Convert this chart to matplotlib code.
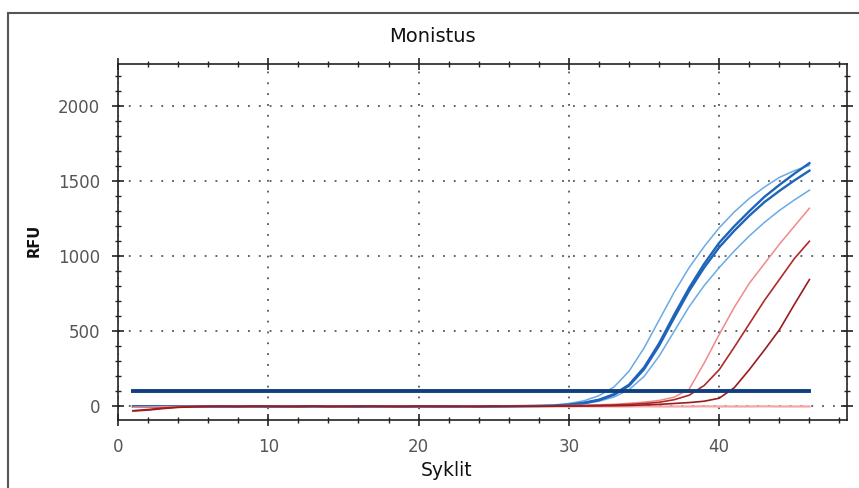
import matplotlib
matplotlib.use("Agg")
import matplotlib.pyplot as plt
from matplotlib.ticker import MultipleLocator
from matplotlib.patches import Rectangle

plt.rcParams['font.family'] = ['DejaVu Sans']

cycles = list(range(1, 47))

# RFU values per cycle (cycles 1..46)
blue_dark_a = [0, 1, 0, 2, 1, 0, 2, 1, 0, 1, 2, 0, 1, 0, 2, 1, 0, 1, 2, 1, 0, 1, 2, 1, 0, 2, 3, 4,
               5, 12, 25, 45, 82, 145, 260, 420, 610, 790, 950, 1090, 1200, 1300, 1395, 1475, 1550, 1620]
blue_dark_b = [0, 0, 1, 1, 2, 1, 0, 1, 2, 0, 1, 1, 0, 2, 1, 0, 1, 2, 0, 1, 1, 0, 2, 1, 1, 2, 2, 3,
               4, 10, 22, 42, 78, 138, 248, 405, 590, 770, 925, 1060, 1170, 1270, 1360, 1435, 1505, 1570]
blue_light_a = [0, 1, 1, 0, 1, 2, 1, 0, 1, 1, 0, 2, 1, 1, 0, 1, 2, 1, 0, 1, 2, 1, 1, 2, 2, 3, 4, 5,
                10, 20, 38, 72, 130, 235, 390, 575, 760, 925, 1065, 1190, 1295, 1385, 1460, 1525, 1570, 1605]
blue_light_b = [0, 0, 1, 1, 0, 1, 1, 2, 0, 1, 1, 0, 1, 2, 1, 0, 1, 1, 2, 0, 1, 1, 0, 1, 2, 2, 2, 2,
                3, 8, 18, 35, 63, 112, 200, 335, 500, 665, 805, 925, 1035, 1135, 1225, 1305, 1375, 1440]
red_light = [-5, -3, -1, 0, 1, 0, 2, 1, 0, 1, 2, 1, 0, 1, 1, 2, 0, 1, 2, 1, 0, 1, 2, 1, 1, 2, 2, 3,
             4, 6, 8, 11, 15, 21, 29, 40, 62, 115, 290, 480, 660, 820, 950, 1080, 1200, 1320]
red_dark = [-28, -20, -10, -4, 0, 1, 2, 1, 0, 2, 1, 0, 2, 1, 0, 1, 2, 1, 0, 1, 2, 1, 0, 1, 2, 2, 3, 3,
            4, 5, 6, 8, 10, 14, 20, 28, 45, 75, 140, 245, 395, 550, 705, 845, 985, 1100]
red_darkest = [-30, -24, -14, -6, -2, 0, 1, 0, 2, 1, 0, 1, 2, 0, 1, 2, 1, 0, 1, 2, 0, 1, 1, 0, 2, 1, 2, 2,
               2, 3, 3, 4, 5, 7, 10, 14, 20, 26, 35, 55, 125, 245, 375, 510, 680, 845]
negative = [-2, -1, 0, 0, 1, 0, 0, 1, 0, 0, 1, 0, 0, 0, 1, 0, 0, 0, 1, 0, 0, 0, 1, 0, 0, 0, 1, 0,
            0, 0, 1, 0, 0, 0, 1, 0, 0, 0, 1, 0, 0, 0, 1, 0, 0, 0]
threshold = 100

fig = plt.figure(figsize=(8.59, 4.88), dpi=100)
fig.patches.append(Rectangle((8/859, -0.05), 1.1, 1 - 13/488 + 0.05, transform=fig.transFigure,
                             fill=False, edgecolor='#555555', linewidth=1.5))
ax = fig.add_axes([118/859, 1 - 420/488, (847-118)/859, (420-64)/488])

ax.plot(cycles, negative, color='#f4a6a6', lw=1.6)
ax.plot(cycles, blue_light_a, color='#6aaae6', lw=1.1)
ax.plot(cycles, blue_light_b, color='#6aaae6', lw=1.1)
ax.plot(cycles, blue_dark_a, color='#1e64b8', lw=1.7)
ax.plot(cycles, blue_dark_b, color='#1e64b8', lw=1.7)
ax.plot(cycles, red_light, color='#f08a8a', lw=1.1)
ax.plot(cycles, red_dark, color='#b02a2a', lw=1.2)
ax.plot(cycles, red_darkest, color='#9a1c1c', lw=1.2)
ax.plot([cycles[0], cycles[-1]], [threshold, threshold], color='#0f3f7f', lw=2.8)

ax.set_xlim(0, 48.5)
ax.set_ylim(-90, 2280)
ax.xaxis.set_major_locator(MultipleLocator(10))
ax.xaxis.set_minor_locator(MultipleLocator(2))
ax.yaxis.set_major_locator(MultipleLocator(500))
ax.yaxis.set_minor_locator(MultipleLocator(100))
ax.tick_params(which='both', direction='inout', top=True, right=True, color='#222222',
               labelcolor='#555555', labelsize=12)
ax.tick_params(which='major', length=8, width=1.2)
ax.tick_params(which='minor', length=5, width=1.0)
ax.tick_params(axis='x', which='major', pad=9)
ax.tick_params(axis='y', which='major', pad=9)
ax.grid(True, which='major', color='#555555', linestyle=(0, (1, 5)), linewidth=1.3)
for s in ax.spines.values():
    s.set_color('#222222')
    s.set_linewidth(1.2)

fig.text(0.503, 1 - 36/488, 'Monistus', ha='center', va='center', fontsize=14, color='#111111')
fig.text(447/859, 1 - 471/488, 'Syklit', ha='center', va='center', fontsize=13.5, color='#111111')
fig.text(34/859, 1 - 240/488, 'RFU', ha='center', va='center', rotation=90, fontsize=10.5,
         fontweight='bold', color='#111111')

fig.savefig('out.png', dpi=100)
